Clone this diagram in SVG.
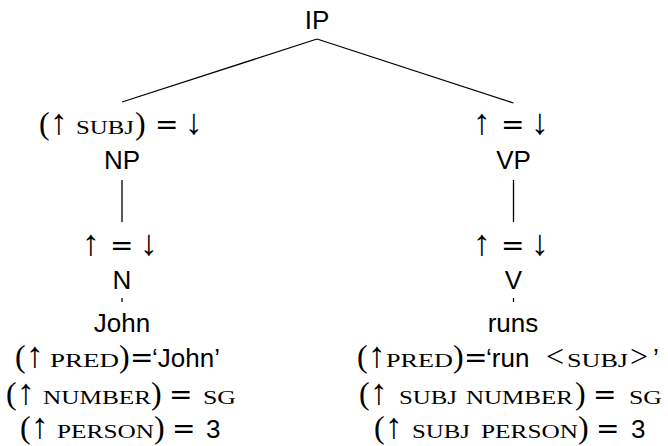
<svg xmlns="http://www.w3.org/2000/svg" width="668" height="446" viewBox="0 0 668 446">
<style>
.lab{font-family:"Liberation Sans",Arial,sans-serif;font-size:26px;fill:#000;text-anchor:middle}
.m{font-family:"Liberation Serif","DejaVu Serif",serif;font-size:32px;fill:#000}
.ar{font-family:"Liberation Serif","DejaVu Serif",serif;font-size:36px}
.eq{font-family:"DejaVu Serif","Liberation Serif",serif;font-size:28px}
.sc{font-family:"Liberation Serif","DejaVu Serif",serif;font-size:19px}
.sf{font-family:"Liberation Sans",Arial,sans-serif;font-size:26px}
.edge{stroke:#000;stroke-width:1.3;fill:none}
</style>
<rect width="668" height="446" fill="#fff"/>
<g id="connectors">
<line class="edge" x1="317" y1="39" x2="122" y2="102"/>
<line class="edge" x1="317" y1="39" x2="513.5" y2="103"/>
<line class="edge" x1="122" y1="180" x2="122" y2="222"/>
<line class="edge" x1="513.5" y1="180" x2="513.5" y2="222"/>
<line class="edge" x1="122" y1="298" x2="122" y2="302"/>
<line class="edge" x1="513.5" y1="298" x2="513.5" y2="302"/>
</g>
<g id="IP"><text class="lab" x="317" y="29">IP</text></g>
<g id="NP">
<text class="m" y="134"><tspan x="39">(</tspan><tspan class="ar" x="50">↑</tspan> <tspan class="sc" x="76" textLength="58" lengthAdjust="spacingAndGlyphs">SUBJ</tspan><tspan x="135">)</tspan> <tspan class="eq" x="155">=</tspan> <tspan class="ar" x="185">↓</tspan></text>
<text class="lab" x="122" y="169">NP</text>
</g>
<g id="VP">
<text class="m" y="134"><tspan class="ar" x="473">↑</tspan> <tspan class="eq" x="501">=</tspan> <tspan class="ar" x="531">↓</tspan></text>
<text class="lab" x="513.5" y="169">VP</text>
</g>
<g id="N">
<text class="m" y="255"><tspan class="ar" x="82">↑</tspan> <tspan class="eq" x="110">=</tspan> <tspan class="ar" x="140">↓</tspan></text>
<text class="lab" x="122" y="289">N</text>
</g>
<g id="V">
<text class="m" y="255"><tspan class="ar" x="473">↑</tspan> <tspan class="eq" x="501">=</tspan> <tspan class="ar" x="531">↓</tspan></text>
<text class="lab" x="513.5" y="289">V</text>
</g>
<g id="John">
<text class="lab" x="122" y="332">John</text>
<text class="m" y="367"><tspan x="15">(</tspan><tspan class="ar" x="26">↑</tspan> <tspan class="sc" x="50" textLength="69" lengthAdjust="spacingAndGlyphs">PRED</tspan><tspan x="119">)</tspan><tspan class="eq" x="130">=</tspan><tspan class="sf" x="152">‘John’</tspan></text>
<text class="m" y="404"><tspan x="6">(</tspan><tspan class="ar" x="17">↑</tspan> <tspan class="sc" x="43" textLength="108" lengthAdjust="spacingAndGlyphs">NUMBER</tspan><tspan x="151">)</tspan> <tspan class="eq" x="169">=</tspan> <tspan class="sc" x="203" textLength="33" lengthAdjust="spacingAndGlyphs">SG</tspan></text>
<text class="m" y="438"><tspan x="20">(</tspan><tspan class="ar" x="31">↑</tspan> <tspan class="sc" x="57" textLength="97" lengthAdjust="spacingAndGlyphs">PERSON</tspan><tspan x="154">)</tspan> <tspan class="eq" x="172">=</tspan> <tspan class="sf" x="206">3</tspan></text>
</g>
<g id="runs">
<text class="lab" x="513" y="332">runs</text>
<text class="m" y="367"><tspan x="357">(</tspan><tspan class="ar" x="368">↑</tspan> <tspan class="sc" x="386" textLength="67" lengthAdjust="spacingAndGlyphs">PRED</tspan><tspan x="453">)</tspan><tspan class="eq" x="464">=</tspan><tspan class="sf" x="486">‘run</tspan> <tspan x="546">&lt;</tspan><tspan class="sc" x="567" textLength="61" lengthAdjust="spacingAndGlyphs">SUBJ</tspan><tspan x="630">&gt;</tspan><tspan class="sf" x="653">’</tspan></text>
<text class="m" y="404"><tspan x="359">(</tspan><tspan class="ar" x="370">↑</tspan> <tspan class="sc" x="399" textLength="58" lengthAdjust="spacingAndGlyphs">SUBJ</tspan> <tspan class="sc" x="466" textLength="107" lengthAdjust="spacingAndGlyphs">NUMBER</tspan><tspan x="575">)</tspan> <tspan class="eq" x="593">=</tspan> <tspan class="sc" x="629" textLength="33" lengthAdjust="spacingAndGlyphs">SG</tspan></text>
<text class="m" y="438"><tspan x="374">(</tspan><tspan class="ar" x="385">↑</tspan> <tspan class="sc" x="412" textLength="58" lengthAdjust="spacingAndGlyphs">SUBJ</tspan> <tspan class="sc" x="481" textLength="97" lengthAdjust="spacingAndGlyphs">PERSON</tspan><tspan x="578">)</tspan> <tspan class="eq" x="596">=</tspan> <tspan class="sf" x="631">3</tspan></text>
</g>
</svg>
